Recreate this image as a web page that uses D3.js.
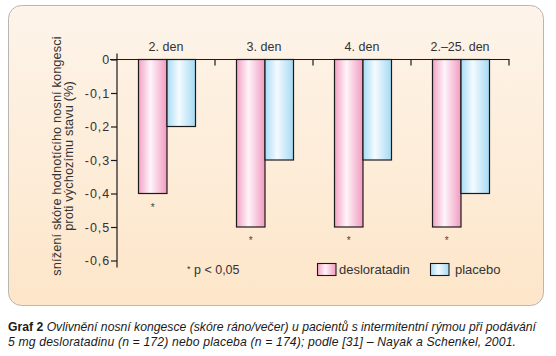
<!DOCTYPE html>
<html>
<head>
<meta charset="utf-8">
<script src="https://cdn.jsdelivr.net/npm/d3@7"></script>
<style>
  html, body { margin: 0; padding: 0; background: #ffffff; }
  svg { display: block; font-family: "Liberation Sans", Arial, sans-serif; }
</style>
</head>
<body>
<svg id="chart" width="556" height="356"></svg>
<script>
// ---- data ----
const categories = ["2. den", "3. den", "4. den", "2.\u201325. den"];
const seriesNames = ["desloratadin", "placebo"];
const desloratadin = [-0.4, -0.5, -0.5, -0.5];
const placebo = [-0.2, -0.3, -0.3, -0.4];
const significant = [true, true, true, true];
const yTicks = [0, -0.1, -0.2, -0.3, -0.4, -0.5, -0.6];
const yTitle = ["sn\u00ed\u017een\u00ed sk\u00f3re hodnot\u00edc\u00edho nosn\u00ed kongesci", "proti v\u00fdchoz\u00edmu stavu (%)"];
const noteText = "p < 0,05";
const captionBold = "Graf 2";
const captionLine1 = "Ovlivn\u011bn\u00ed nosn\u00ed kongesce (sk\u00f3re r\u00e1no/ve\u010der) u pacient\u016f s intermitentn\u00ed r\u00fdmou p\u0159i pod\u00e1v\u00e1n\u00ed";
const captionLine2 = "5 mg desloratadinu (n = 172) nebo placeba (n = 174); podle [31] \u2013 Nayak a Schenkel, 2001.";

const values = { desloratadin, placebo };

const svg = d3.select("#chart");
const defs = svg.append("defs");

// background gradient
const bg = defs.append("linearGradient").attr("id", "bg").attr("x1", 0).attr("y1", 0).attr("x2", 0).attr("y2", 1);
bg.append("stop").attr("offset", "0%").attr("stop-color", "#fdf4ea");
bg.append("stop").attr("offset", "100%").attr("stop-color", "#fde6c9");

const grads = {
  desloratadin: ["#f3a2c5", "#fff4f9", "#f19bc0"],
  placebo: ["#a8dcf5", "#f4fbff", "#a5d9f3"]
};
Object.entries(grads).forEach(([k, c]) => {
  const g = defs.append("linearGradient").attr("id", "g-" + k).attr("x1", 0).attr("y1", 0).attr("x2", 1).attr("y2", 0);
  g.append("stop").attr("offset", "0%").attr("stop-color", c[0]);
  g.append("stop").attr("offset", "42%").attr("stop-color", c[1]);
  g.append("stop").attr("offset", "100%").attr("stop-color", c[2]);
});

// panel
svg.append("rect").attr("x", 8.5).attr("y", 5.5).attr("width", 535).attr("height", 300)
  .attr("rx", 13).attr("ry", 13).attr("fill", "url(#bg)").attr("stroke", "#b9b5b0").attr("stroke-width", 1);

// scales
const y = d3.scaleLinear().domain([0, -0.6]).range([59.5, 260.5]);
const x = d3.scaleBand().domain(categories).range([117, 509]).padding(0);
const xs = d3.scaleBand().domain(seriesNames).range([21.5, x.bandwidth() - 19.5]).padding(0);

const textColor = "#333333";

// bars
const g = svg.append("g");
categories.forEach((c, i) => {
  seriesNames.forEach(s => {
    const v = values[s][i];
    g.append("rect")
      .attr("x", x(c) + xs(s))
      .attr("y", y(0))
      .attr("width", xs.bandwidth())
      .attr("height", y(v) - y(0))
      .attr("fill", "url(#g-" + s + ")")
      .attr("stroke", "#1a1a1a")
      .attr("stroke-width", 1.2);
  });
  if (significant[i]) {
    g.append("text")
      .attr("x", x(c) + xs("desloratadin") + xs.bandwidth() / 2)
      .attr("y", y(desloratadin[i]) + 17)
      .attr("text-anchor", "middle")
      .attr("font-size", 10)
      .attr("fill", "#444")
      .text("*");
  }
  // category label
  svg.append("text")
    .attr("x", x(c) + x.bandwidth() / 2)
    .attr("y", 51)
    .attr("text-anchor", "middle")
    .attr("font-size", 12.5)
    .attr("fill", textColor)
    .text(c);
});

// y axis
const fmt = d => d === 0 ? "0" : d3.format(".1f")(d).replace("\u2212", "-").replace(".", ",");
const yAxis = svg.append("g").attr("transform", "translate(117,0)")
  .call(d3.axisLeft(y).tickValues(yTicks).tickFormat(fmt).tickSize(6).tickSizeOuter(0).tickPadding(1));
yAxis.select(".domain").remove();
yAxis.selectAll(".tick line").attr("stroke", "#1a1a1a").attr("stroke-width", 1.2);
yAxis.selectAll(".tick text").attr("font-size", 12.5).attr("fill", textColor)
  .attr("font-family", "Liberation Sans, Arial, sans-serif").attr("letter-spacing", 0.9);
svg.append("line").attr("x1", 117).attr("x2", 117).attr("y1", y(0) - 6).attr("y2", y(-0.6) + 7)
  .attr("stroke", "#1a1a1a").attr("stroke-width", 1.2);

// x axis line and boundary ticks
svg.append("line").attr("x1", 110).attr("x2", x.range()[1] + 0.5).attr("y1", y(0)).attr("y2", y(0))
  .attr("stroke", "#1a1a1a").attr("stroke-width", 1.2);
categories.forEach(c => {
  const xx = x(c) + x.bandwidth();
  svg.append("line").attr("x1", xx).attr("x2", xx).attr("y1", y(0)).attr("y2", y(0) + 6)
    .attr("stroke", "#1a1a1a").attr("stroke-width", 1.2);
});

// y title
yTitle.forEach((t, i) => {
  svg.append("text")
    .attr("transform", `translate(${61 + i * 11.8},156) rotate(-90)`)
    .attr("text-anchor", "middle")
    .attr("font-size", 12.8)
    .attr("letter-spacing", 0.1)
    .attr("fill", textColor)
    .text(t);
});

// note
const note = svg.append("text").attr("x", 187).attr("y", 274).attr("font-size", 12.5).attr("fill", textColor);
note.append("tspan").attr("font-size", 9).attr("dy", -2).text("*");
note.append("tspan").attr("dy", 2).text(" " + noteText);

// legend
const legX = [317.5, 430.5];
const legTextDx = [21.5, 24.5];
seriesNames.forEach((s, i) => {
  svg.append("rect").attr("x", legX[i]).attr("y", 263.5).attr("width", 18.5).attr("height", 12)
    .attr("fill", "url(#g-" + s + ")").attr("stroke", "#1a1a1a").attr("stroke-width", 1.1);
  svg.append("text").attr("x", legX[i] + legTextDx[i]).attr("y", 274).attr("font-size", 13).attr("fill", textColor).text(s);
});

// caption
const cap1 = svg.append("text").attr("x", 8).attr("y", 331).attr("font-size", 12.2).attr("fill", "#1a1a1a")
  .attr("textLength", 528).attr("lengthAdjust", "spacing");
cap1.append("tspan").attr("font-weight", "bold").text(captionBold);
cap1.append("tspan").attr("font-style", "italic").text(" " + captionLine1);
svg.append("text").attr("x", 8).attr("y", 346).attr("font-size", 12.2).attr("fill", "#1a1a1a")
  .attr("textLength", 508).attr("lengthAdjust", "spacing")
  .attr("font-style", "italic").text(captionLine2);
</script>
</body>
</html>
